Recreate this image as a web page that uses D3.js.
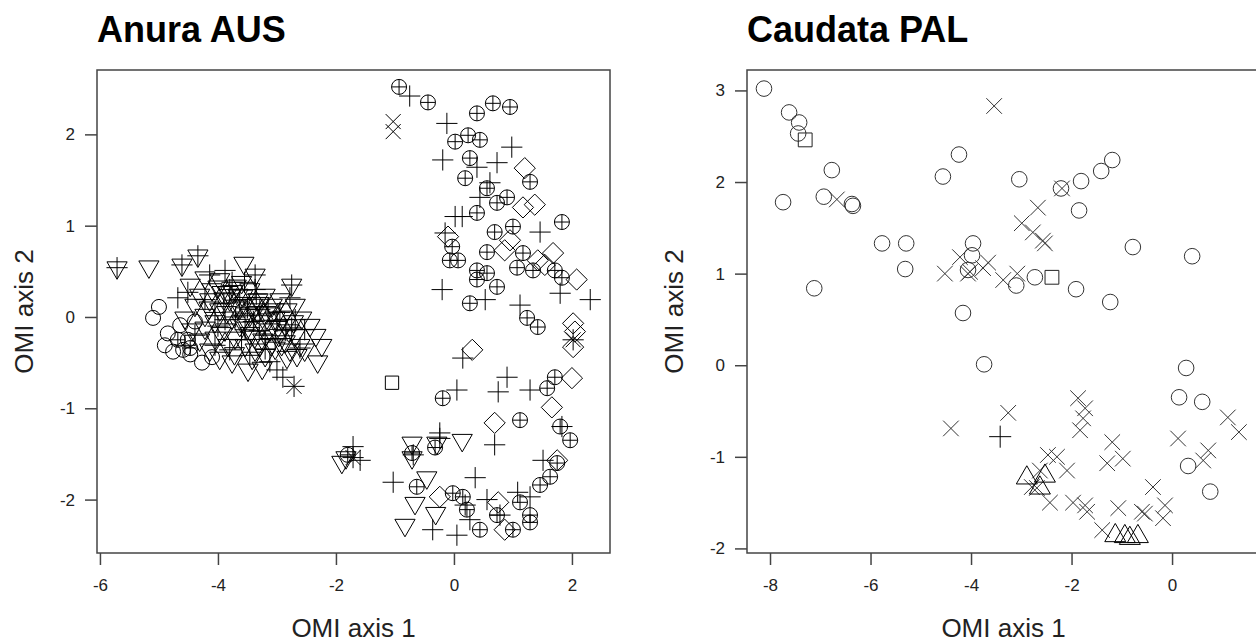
<!DOCTYPE html>
<html>
<head>
  <meta charset="utf-8">
  <script src="https://cdn.jsdelivr.net/npm/d3@7"></script>
  <style>
    body { margin: 0; background: #fff; }
    text { font-family: "Liberation Sans", Arial, sans-serif; }
  </style>
</head>
<body>
<script>
  // ---- Anura AUS (left panel) ----
  var anuraTriDown = [
    [-5.71,0.54],[-5.17,0.55],[-4.61,0.57],[-4.34,0.67],[-3.56,0.59],[-3.37,0.46],[-2.75,0.35],
    [-4.47,0.35],[-4.22,0.43],[-4.10,0.30],[-3.97,0.41],[-3.83,0.27],[-3.69,0.34],[-3.58,0.23],
    [-3.46,0.30],[-3.32,0.19],[-3.20,0.24],[-3.08,0.13],[-2.95,0.19],[-2.83,0.08],[-2.69,0.13],
    [-2.58,-0.01],[-2.44,-0.09],[-2.34,-0.20],[-2.24,-0.31],[-2.31,-0.49],[-2.53,-0.36],[-2.66,-0.42],
    [-2.83,-0.44],[-3.25,-0.56],[-3.49,-0.58],[-3.76,-0.49],[-3.97,-0.45],[-4.14,-0.36],[-4.31,-0.25],
    [-4.44,-0.14],[-4.56,-0.01],[-4.39,0.13],[-4.22,0.02],[-4.05,-0.05],[-3.88,-0.14],[-3.71,-0.23],
    [-3.54,-0.31],[-3.37,-0.36],[-3.20,-0.42],[-3.03,-0.34],[-2.86,-0.27],[-2.69,-0.20],[-3.12,-0.14],
    [-3.29,-0.05],[-3.46,0.02],[-3.63,0.10],[-3.80,0.19],[-3.97,0.08],[-4.14,0.19],[-4.31,0.24],
    [-3.03,-0.01],[-2.86,-0.09],[-3.24,-0.25],[-3.63,-0.09],[-3.83,-0.31],[-3.46,-0.18],[-2.61,-0.31],
    [-4.05,-0.23],[-4.22,-0.12],[-3.76,-0.01],[-3.54,-0.03],[-3.32,0.05],[-3.15,-0.03],[-3.93,0.27],
    [-3.66,0.24],[-3.42,0.13],[-2.97,-0.20],[-2.78,-0.36],[-3.29,-0.31],
    [-4.00,0.33],[-3.90,0.20],[-3.85,0.05],[-3.75,0.28],[-3.70,0.12],[-3.60,-0.05],[-3.55,0.15],
    [-3.50,-0.12],[-3.40,0.08],[-3.38,-0.22],[-3.30,0.15],[-3.25,-0.10],[-3.18,0.05],[-3.10,-0.30],
    [-3.05,0.08],[-2.98,-0.10],[-2.90,0.00],[-2.92,-0.30],[-2.80,-0.15],[-2.72,-0.05],[-3.60,0.38],
    [-3.95,-0.18],[-4.15,0.10],[-3.72,-0.40],[-3.42,-0.45],
    [-0.71,-1.38],[-0.71,-1.54],[-0.29,-1.38],[0.14,-1.35],[-0.46,-1.76],[-0.66,-2.04],[-0.31,-2.15],
    [-0.83,-2.28],[-1.90,-1.59],[-1.83,-1.54]
  ];
  var anuraPlus = [
    [-5.71,0.54],[-4.61,0.57],[-4.34,0.67],[-3.37,0.46],[-2.75,0.35],[-4.68,0.21],[-4.51,0.27],
    [-4.14,0.46],[-3.88,0.51],[-3.76,0.38],[-4.22,0.19],[-4.05,0.05],[-3.63,0.19],[-3.29,0.08],
    [-2.95,0.05],[-2.69,-0.03],[-2.53,-0.14],[-2.61,-0.34],[-3.00,-0.58],[-2.90,-0.66],[-3.12,-0.49],
    [-3.46,-0.42],[-3.80,-0.36],[-4.05,-0.31],[-4.39,-0.20],[-4.56,-0.31],[-3.54,-0.14],[-3.20,-0.20],
    [-3.03,-0.25],[-3.88,-0.03],[-3.37,0.30],[-2.78,0.21],
    [-3.90,0.15],[-3.70,0.00],[-3.50,0.10],[-3.40,-0.05],[-3.30,-0.15],[-3.15,0.10],[-3.00,-0.05],
    [-2.85,-0.15],[-3.60,-0.25],[-3.80,0.30],[-3.55,0.38],[-3.20,-0.35],[-2.75,-0.12],[-4.00,-0.10],
    [-3.35,0.25],
    [-0.75,2.42],[-0.12,2.12],[-0.19,1.72],[0.98,1.86],[0.73,1.69],[0.39,1.64],[0.14,1.10],
    [-0.15,0.92],[1.46,0.93],[-0.20,0.30],[0.53,0.19],[1.12,0.13],[1.80,0.26],[2.31,0.19],
    [0.61,1.47],[0.44,1.31],[0.02,1.10],[0.15,-0.45],[0.05,-0.80],[0.90,-0.66],[0.75,-0.82],
    [1.29,-0.80],[-0.24,-1.27],[0.69,-1.40],[-1.03,-1.81],[0.36,-1.76],[1.51,-1.57],[1.08,-1.92],
    [0.56,-2.00],[-0.36,-2.33],[0.05,-2.39],[1.83,-1.20],[1.29,-1.97],[-0.69,-1.51],[-0.24,-1.33],
    [-1.71,-1.42],[-1.59,-1.57],[0.27,-2.22],[0.19,-2.06],[0.78,-2.17]
  ];
  var anuraCirclePlus = [
    [-0.93,2.52],[-0.44,2.35],[0.66,2.34],[0.95,2.30],[0.39,2.23],[0.24,1.99],[0.44,1.94],
    [0.02,1.92],[0.27,1.74],[0.19,1.52],[1.29,1.48],[0.56,1.41],[0.90,1.31],[0.73,1.25],
    [0.39,1.14],[1.83,1.04],[0.69,0.93],[1.00,0.99],[-0.03,0.77],[0.56,0.71],[0.07,0.62],
    [1.07,0.54],[1.34,0.51],[0.39,0.51],[0.56,0.48],[1.83,0.43],[1.71,0.51],[0.73,0.33],
    [0.27,0.15],[1.24,-0.01],[1.42,-0.11],[0.39,0.41],[-0.07,0.62],[1.17,0.70],[-0.19,-0.89],
    [1.12,-1.13],[1.58,-0.78],[1.71,-0.66],[1.80,-1.20],[1.97,-1.35],[1.75,-1.60],[1.63,-1.75],
    [1.46,-1.84],[-0.63,-1.86],[-0.02,-1.93],[0.15,-1.97],[0.22,-2.11],[0.44,-2.33],[1.00,-2.33],
    [1.29,-2.17],[1.12,-2.03],[1.29,-2.25],[0.73,-2.17],[-0.32,-1.43],[-0.71,-1.49],[-1.80,-1.51],
    [-4.47,-0.34],[-4.68,-0.25]
  ];
  var anuraDiamond = [
    [1.20,1.63],[1.37,1.23],[-0.10,0.88],[0.95,0.84],[1.68,0.70],[2.08,0.41],[1.42,0.62],
    [2.02,-0.07],[2.05,-0.16],[2.02,-0.33],[0.31,-0.36],[2.00,-0.67],[1.66,-0.99],[0.69,-1.16],
    [-0.24,-1.97],[0.75,-2.03],[0.86,-2.33],[1.75,-1.57],[1.17,1.20],[1.54,0.57],[0.86,0.73]
  ];
  var anuraCircle = [
    [-5.00,0.11],[-5.10,-0.01],[-4.85,-0.18],[-4.76,-0.38],[-4.59,-0.36],[-4.47,-0.41],
    [-4.27,-0.50],[-4.10,-0.44],[-4.64,-0.09],[-4.39,-0.05],[-4.51,-0.25],[-4.90,-0.31]
  ];
  var anuraCross = [[-1.03,2.14],[-1.03,2.03]];
  var anuraSquare = [[-1.05,-0.72]];
  var anuraAsterisk = [[-2.71,-0.76],[-1.71,-1.54],[2.02,-0.25]];

  // ---- Caudata PAL (right panel) ----
  var caudataCircle = [
    [-8.12,3.02],[-7.62,2.76],[-7.42,2.65],[-7.44,2.53],[-7.74,1.78],[-6.77,2.13],[-6.93,1.84],
    [-6.35,1.74],[-6.37,1.76],[-5.77,1.33],[-5.29,1.33],[-5.31,1.05],[-7.12,0.84],[-4.56,2.06],
    [-4.24,2.30],[-3.96,1.33],[-3.98,1.20],[-4.06,1.04],[-4.16,0.57],[-3.04,2.03],[-2.21,1.93],
    [-1.81,2.01],[-1.41,2.12],[-1.19,2.24],[-1.85,1.69],[-0.78,1.29],[0.40,1.19],[-2.73,0.96],
    [-3.10,0.87],[-1.91,0.83],[-1.23,0.69],[-3.74,0.01],[0.28,-0.03],[0.14,-0.35],[0.60,-0.40],
    [0.32,-1.10],[0.76,-1.38]
  ];
  var caudataSquare = [[-7.30,2.46],[-2.39,0.96]];
  var caudataCross = [
    [-3.54,2.83],[-2.67,1.72],[-2.99,1.55],[-2.77,1.45],[-2.57,1.36],[-2.53,1.33],[-3.66,1.12],
    [-3.76,1.06],[-4.06,1.00],[-3.08,1.00],[-3.36,0.93],[-2.19,1.93],[-6.67,1.81],[-4.52,1.00],
    [-4.22,1.18],[-4.02,1.02],[-4.40,-0.69],[-3.26,-0.52],[-1.87,-0.36],[-1.73,-0.47],[-1.77,-0.58],
    [-1.83,-0.71],[-1.19,-0.84],[-1.29,-1.07],[-0.98,-1.02],[-2.47,-0.98],[-2.29,-1.00],[-2.09,-1.15],
    [-2.79,-1.33],[-2.69,-1.34],[-2.43,-1.50],[-1.97,-1.50],[-1.73,-1.53],[-1.69,-1.60],[-1.07,-1.56],
    [-1.39,-1.80],[-0.60,-1.60],[-0.54,-1.62],[-0.38,-1.33],[-0.14,-1.53],[-0.18,-1.67],[0.12,-0.80],
    [0.62,-1.04],[0.72,-0.93],[1.11,-0.57],[1.33,-0.73],[-2.63,-1.15]
  ];
  var caudataPlus = [[-3.42,-0.78]];
  var caudataTriUp = [
    [-2.89,-1.23],[-2.53,-1.21],[-2.63,-1.34],[-1.13,-1.86],[-0.94,-1.87],[-0.68,-1.87],[-0.84,-1.89]
  ];

  var ticksL_x = [-6, -4, -2, 0, 2], ticksL_y = [-2, -1, 0, 1, 2];
  var ticksR_x = [-8, -6, -4, -2, 0], ticksR_y = [-2, -1, 0, 1, 2, 3];

  var width = 1256, height = 644;
  var svg = d3.select("body").append("svg")
    .attr("width", width).attr("height", height)
    .style("background", "#fff");

  // R-style pch shapes, r = base radius
  function shape(type, r) {
    var p = d3.path(), a;
    if (type == "square") {
      a = r * 0.886;
      p.rect(-a, -a, 2 * a, 2 * a);
    } else if (type == "triUp") {
      p.moveTo(0, -1.555 * r); p.lineTo(1.347 * r, 0.778 * r); p.lineTo(-1.347 * r, 0.778 * r); p.closePath();
    } else if (type == "triDown") {
      p.moveTo(0, 1.555 * r); p.lineTo(1.347 * r, -0.778 * r); p.lineTo(-1.347 * r, -0.778 * r); p.closePath();
    } else if (type == "plus") {
      a = 1.414 * r;
      p.moveTo(-a, 0); p.lineTo(a, 0); p.moveTo(0, -a); p.lineTo(0, a);
    } else if (type == "cross") {
      p.moveTo(-r, -r); p.lineTo(r, r); p.moveTo(-r, r); p.lineTo(r, -r);
    } else if (type == "diamond") {
      a = 1.414 * r;
      p.moveTo(0, -a); p.lineTo(a, 0); p.lineTo(0, a); p.lineTo(-a, 0); p.closePath();
    } else if (type == "asterisk") {
      a = 1.414 * r;
      p.moveTo(-r, -r); p.lineTo(r, r); p.moveTo(-r, r); p.lineTo(r, -r);
      p.moveTo(-a, 0); p.lineTo(a, 0); p.moveTo(0, -a); p.lineTo(0, a);
    } else if (type == "circle") {
      p.moveTo(r, 0); p.arc(0, 0, r, 0, 2 * Math.PI);
    } else if (type == "circlePlus") {
      p.moveTo(r, 0); p.arc(0, 0, r, 0, 2 * Math.PI);
      p.moveTo(-r, 0); p.lineTo(r, 0); p.moveTo(0, -r); p.lineTo(0, r);
    }
    return p.toString();
  }

  function panel(opt) {
    var x = d3.scaleLinear().domain(opt.xd).range([opt.left, opt.left + 513]);
    var y = d3.scaleLinear().domain(opt.yd).range([553, 70]);
    var g = svg.append("g");

    var clipId = "clip" + opt.id;
    svg.append("clipPath").attr("id", clipId).append("rect")
      .attr("x", opt.left).attr("y", 70).attr("width", 513).attr("height", 483);

    var marks = g.append("g").attr("clip-path", "url(#" + clipId + ")");
    opt.layers.forEach(function (l) {
      marks.append("g").selectAll("path")
        .data(l.data)
        .enter().append("path")
        .attr("transform", function (d) { return "translate(" + x(d[0]) + "," + y(d[1]) + ")"; })
        .attr("d", shape(l.type, opt.r))
        .attr("fill", "none")
        .attr("stroke", l.color || "#000")
        .attr("stroke-width", 1);
    });

    g.append("rect")
      .attr("x", opt.left).attr("y", 70).attr("width", 513).attr("height", 483)
      .attr("fill", "none").attr("stroke", "#444").attr("stroke-width", 1.5);

    var xa = g.append("g").attr("transform", "translate(0,553)")
      .call(d3.axisBottom(x).tickValues(opt.xt).tickSize(12).tickPadding(14).tickFormat(d3.format("d")));
    var ya = g.append("g").attr("transform", "translate(" + opt.left + ",0)")
      .call(d3.axisLeft(y).tickValues(opt.yt).tickSize(12).tickPadding(10).tickFormat(d3.format("d")));
    [xa, ya].forEach(function (a) {
      a.select(".domain").remove();
      a.selectAll("line").attr("stroke", "#444").attr("stroke-width", 1.5);
      a.selectAll("text").attr("fill", "#222").style("font-size", "17px")
        .style("font-family", "'Liberation Sans', Arial, sans-serif");
    });
    // d3 uses U+2212 for negatives; R prints a hyphen
    g.selectAll(".tick text").text(function (d) { return String(d); });

    g.append("text").attr("x", opt.left).attr("y", 42)
      .style("font-size", "36px").style("font-weight", "bold").attr("fill", "#000")
      .text(opt.title);
    g.append("text").attr("x", opt.left + 256.5).attr("y", 637)
      .attr("text-anchor", "middle").style("font-size", "26px").attr("fill", "#222")
      .text("OMI axis 1");
    g.append("text")
      .attr("transform", "translate(" + (opt.left - 64) + ",311.5) rotate(-90)")
      .attr("text-anchor", "middle").style("font-size", "26px").attr("fill", "#222")
      .text("OMI axis 2");
  }

  panel({
    id: "L", left: 97, xd: [-6.05, 2.645], yd: [-2.585, 2.705], r: 7.5,
    xt: ticksL_x, yt: ticksL_y, title: "Anura AUS",
    layers: [
      { type: "triDown", data: anuraTriDown },
      { type: "circle", data: anuraCircle },
      { type: "diamond", data: anuraDiamond },
      { type: "circlePlus", data: anuraCirclePlus },
      { type: "plus", data: anuraPlus },
      { type: "cross", data: anuraCross },
      { type: "square", data: anuraSquare },
      { type: "asterisk", data: anuraAsterisk }
    ]
  });

  panel({
    id: "R", left: 747, xd: [-8.458, 1.75], yd: [-2.05, 3.223], r: 7.8,
    xt: ticksR_x, yt: ticksR_y, title: "Caudata PAL",
    layers: [
      { type: "circle", data: caudataCircle, color: "#333" },
      { type: "cross", data: caudataCross, color: "#333" },
      { type: "square", data: caudataSquare, color: "#222" },
      { type: "plus", data: caudataPlus },
      { type: "triUp", data: caudataTriUp }
    ]
  });
</script>
</body>
</html>
